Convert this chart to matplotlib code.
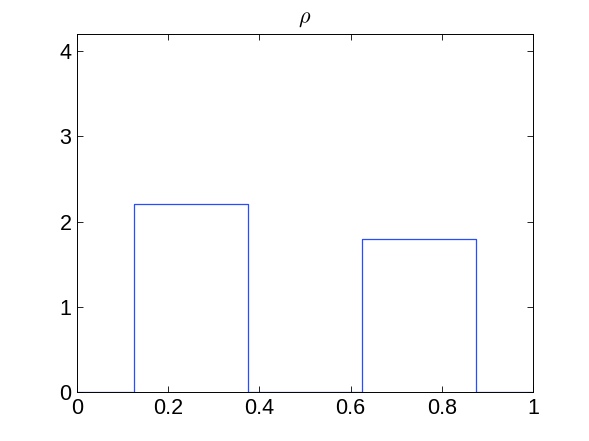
import matplotlib
matplotlib.use("Agg")
import matplotlib.pyplot as plt

x = [0.0, 0.125, 0.125, 0.375, 0.375, 0.625, 0.625, 0.875, 0.875, 1.0]
rho = [0.0, 0.0, 2.2, 2.2, 0.0, 0.0, 1.8, 1.8, 0.0, 0.0]
xticks = [0, 0.2, 0.4, 0.6, 0.8, 1]
xticklabels = ["0", "0.2", "0.4", "0.6", "0.8", "1"]
yticks = [0, 1, 2, 3, 4]
yticklabels = ["0", "1", "2", "3", "4"]

plt.rcParams['font.family'] = ['Liberation Sans', 'DejaVu Sans']
plt.rcParams['mathtext.fontset'] = 'cm'
fig = plt.figure(figsize=(5.89, 4.41), dpi=100)
ax = fig.add_axes([77/589, 1-392/441, (533-77)/589, (392-34)/441])
ax.plot(x, rho, color=(0.15, 0.3, 1.0), lw=0.9, zorder=1)
ax.set_xlim(0, 1)
ax.set_ylim(0, 4.2)
ax.set_xticks(xticks)
ax.set_xticklabels(xticklabels)
ax.set_yticks(yticks)
ax.set_yticklabels(yticklabels)
ax.tick_params(direction='in', top=True, right=True, labelsize=15.5, length=4, width=0.6, pad=4)
for s in ax.spines.values():
    s.set_linewidth(0.7)
ax.set_title(r'$\rho$', fontsize=16, pad=8)
fig.savefig("out.png", dpi=100)
